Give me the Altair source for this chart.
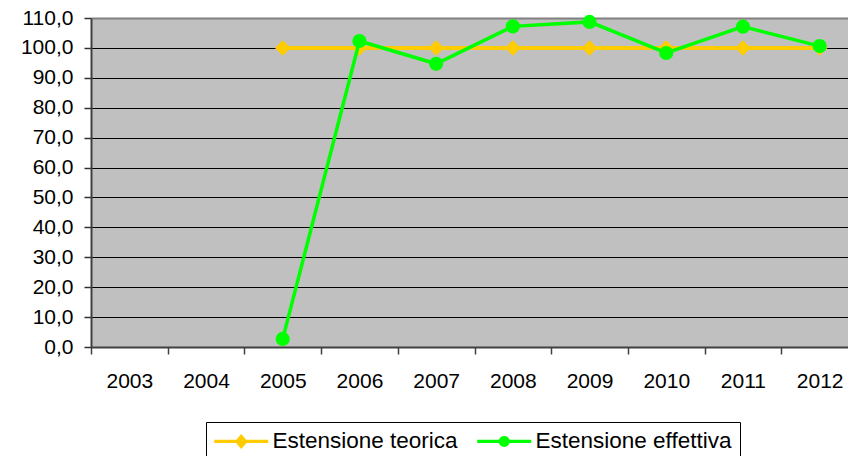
import math
import altair as alt
import pandas as pd

# ---- data ----
years = ["2003", "2004", "2005", "2006", "2007", "2008", "2009", "2010", "2011", "2012"]
teorica = [None, None, 100.0, 100.0, 100.0, 100.0, 100.0, 100.0, 100.0, 100.0]
effettiva = [None, None, 2.7, 102.3, 94.7, 107.2, 108.7, 98.3, 107.1, 100.6]
series = ["Estensione teorica", "Estensione effettiva"]
colors = ["#FFCC00", "#00FF00"]
y_ticks = [0, 10, 20, 30, 40, 50, 60, 70, 80, 90, 100, 110]

FONT = "Liberation Sans"

rows = []
for s, vals in zip(series, [teorica, effettiva]):
    for yr, v in zip(years, vals):
        rows.append({"anno": yr, "serie": s, "valore": v})
df = pd.DataFrame(rows)


# ---- legend symbol shapes (line segment + marker), unit = 11 px ----
def _rect(x0, x1, h):
    return f"M{x0:.4f},{-h:.4f}L{x1:.4f},{-h:.4f}L{x1:.4f},{h:.4f}L{x0:.4f},{h:.4f}Z"


ext = 27 / 11
h = 1.6 / 11
dw, dh = 6.5 / 11, 7.5 / 11
diamond_path = (
    _rect(-ext, -0.45, h) + _rect(0.45, ext, h)
    + f"M0,{-dh:.4f}L{dw:.4f},0L0,{dh:.4f}L{-dw:.4f},0Z"
)
r = 5.5 / 11
pts = [(r * math.cos(2 * math.pi * k / 28), r * math.sin(2 * math.pi * k / 28)) for k in range(28)]
circle_path = (
    _rect(-ext, -0.47, h) + _rect(0.47, ext, h)
    + "M" + "L".join(f"{px:.4f},{py:.4f}" for px, py in pts) + "Z"
)
shape_paths = [diamond_path, circle_path]

# plot area is 757 px wide in the page; the category bands keep the reference's
# 76.7 px step (the reference's last band runs past the picture's right edge)
x_enc = alt.X(
    "anno:O",
    scale=alt.Scale(type="band", domain=years, paddingInner=0, paddingOuter=0, range=[0, 767]),
    axis=alt.Axis(
        title=None, labelAngle=0, tickBand="extent", labelFont=FONT, labelFontSize=21,
        labelColor="#000000", labelPadding=16, tickSize=7, tickColor="#404040",
        tickWidth=1.5, domainColor="#404040", domainWidth=2, grid=False,
    ),
)
y_enc = alt.Y(
    "valore:Q",
    scale=alt.Scale(domain=[0, 110], nice=False, zero=True),
    axis=alt.Axis(
        title=None, values=y_ticks,
        labelExpr="replace(format(datum.value, '.1f'), '.', ',')",
        labelFont=FONT, labelFontSize=21, labelColor="#000000", labelPadding=11,
        tickSize=7, tickColor="#303030", tickWidth=1.5,
        domainColor="#404040", domainWidth=2,
        grid=True,
        gridColor={"condition": {"test": "datum.value === 110", "value": "#808080"}, "value": "#000000"},
        gridWidth={"condition": {"test": "datum.value === 110", "value": 2}, "value": 1},
    ),
)

leg = dict(
    title=None, orient="none", legendX=115, legendY=404, direction="horizontal",
    padding=8, strokeColor="#000000", fillColor="#FFFFFF",
    labelFont=FONT, labelFontSize=22.5, labelColor="#000000", labelLimit=400,
    symbolSize=484, symbolStrokeWidth=0, symbolOpacity=1,
    symbolOffset=16, labelOffset=20, columnPadding=19,
)

base = alt.Chart(df).encode(x=x_enc, y=y_enc)

legend_layer = base.mark_point(filled=True, opacity=0).encode(
    color=alt.Color("serie:N", scale=alt.Scale(domain=series, range=colors), legend=alt.Legend(**leg)),
    shape=alt.Shape("serie:N", scale=alt.Scale(domain=series, range=shape_paths), legend=alt.Legend(**leg)),
)

teo = base.transform_filter(alt.datum.serie == series[0])
eff = base.transform_filter(alt.datum.serie == series[1])

teo_line = teo.mark_line(color=colors[0], strokeWidth=4)
teo_pts = teo.mark_point(shape="diamond", filled=True, size=240, color=colors[0], opacity=1)
eff_line = eff.mark_line(color=colors[1], strokeWidth=3.5)
eff_pts = eff.mark_circle(size=200, color=colors[1], opacity=1)

chart = (
    alt.layer(legend_layer, teo_line, teo_pts, eff_line, eff_pts)
    .properties(
        width=757, height=329,
        autosize=alt.AutoSizeParams(type="none"),
        padding={"left": 83, "top": 10, "right": 0, "bottom": 109},
        background="#FFFFFF",
    )
    .configure_view(fill="#C0C0C0", stroke="transparent")
)

chart.save("out.html", embed_options={"renderer": "svg", "actions": False})
